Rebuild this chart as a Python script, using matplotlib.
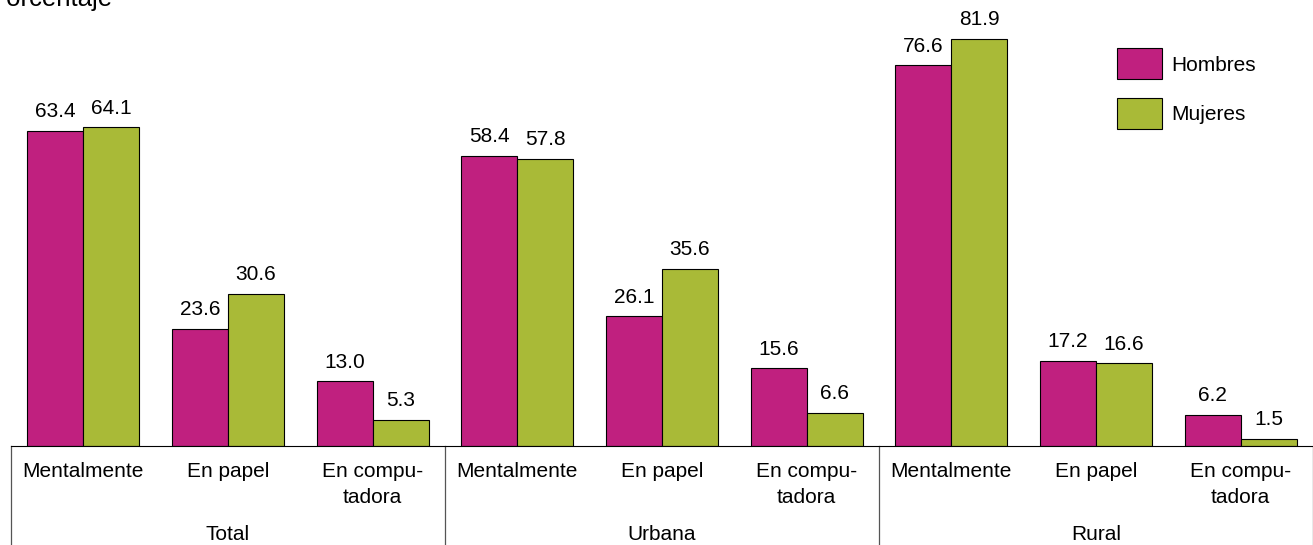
import matplotlib
matplotlib.use("Agg")
import matplotlib.pyplot as plt
from matplotlib.patches import Patch

plt.rcParams['font.family'] = ['Liberation Sans', 'DejaVu Sans']

groups = ["Total", "Urbana", "Rural"]
categories = ["Mentalmente", "En papel", "En compu-\ntadora"]
hombres = [63.4, 23.6, 13.0, 58.4, 26.1, 15.6, 76.6, 17.2, 6.2]
mujeres = [64.1, 30.6, 5.3, 57.8, 35.6, 6.6, 81.9, 16.6, 1.5]
series_names = ["Hombres", "Mujeres"]
colors = ["#C0207F", "#A9BA37"]

FS = 15
W, H = 1313, 545
PXU = 4.97  # pixels per unit
fig = plt.figure(figsize=(W / 100, H / 100), dpi=100)
ax = fig.add_axes([11 / W, (H - 446) / H, (W - 11) / W, 446 / H])

n = len(hombres)
xs = list(range(n))
bw = 0.387
ax.bar([x - bw / 2 for x in xs], hombres, width=bw, color=colors[0], edgecolor="black", linewidth=0.8)
ax.bar([x + bw / 2 for x in xs], mujeres, width=bw, color=colors[1], edgecolor="black", linewidth=0.8)

for x, v in zip(xs, hombres):
    ax.annotate(f"{v:.1f}", (x - bw / 2, v), xytext=(0, 7), textcoords="offset points",
                ha="center", va="bottom", fontsize=FS)
for x, v in zip(xs, mujeres):
    ax.annotate(f"{v:.1f}", (x + bw / 2, v), xytext=(0, 7), textcoords="offset points",
                ha="center", va="bottom", fontsize=FS)

ax.set_xlim(-0.5, n - 0.5)
ax.set_ylim(0, 446 / PXU)
for s in ["top", "right", "left"]:
    ax.spines[s].set_visible(False)
ax.spines["bottom"].set_linewidth(0.8)
ax.set_yticks([])
ax.set_xticks([])

# category labels
for i, x in enumerate(xs):
    ax.text(x, -16 / PXU, categories[i % 3], ha="center", va="top", fontsize=FS,
            linespacing=1.45, clip_on=False)
# group labels and separators
for g, name in enumerate(groups):
    ax.text(g * 3 + 1, -89 / PXU, name, ha="center", va="center", fontsize=FS, clip_on=False)
for g in range(len(groups) + 1):
    ax.plot([g * 3 - 0.5, g * 3 - 0.5], [0, -99 / PXU], color="#555555", linewidth=0.9, clip_on=False)

fig.text(113 / W, (H - 6) / H, "Porcentaje", ha="right", va="baseline", fontsize=18.5)

handles = [Patch(facecolor=c, edgecolor="black", linewidth=0.8) for c in colors]
leg = fig.legend(handles, series_names, loc="upper left", bbox_to_anchor=(1117 / W, 1 - 48.5 / H),
                 frameon=False, fontsize=FS, handlelength=2.16, handleheight=1.9,
                 labelspacing=0.9, handletextpad=0.45, borderpad=0, borderaxespad=0)

fig.savefig("out.png", dpi=100)
